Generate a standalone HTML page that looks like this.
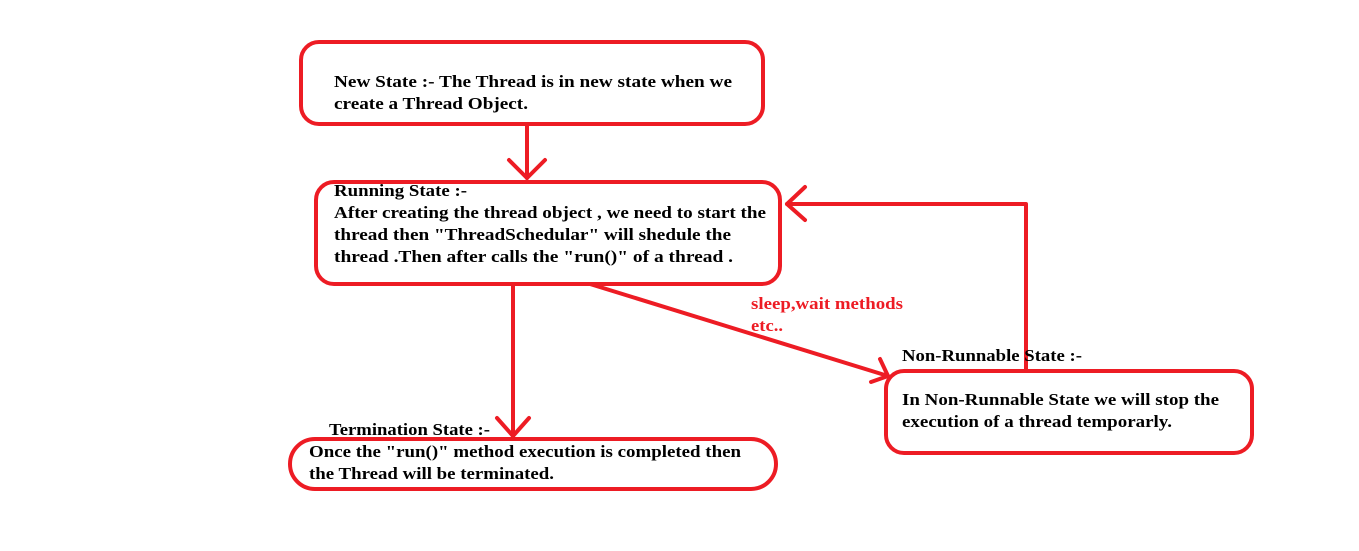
<!DOCTYPE html>
<html><head><meta charset="utf-8"><style>
html,body{margin:0;padding:0;background:#fff;}
svg{display:block;}
text{font-family:"Liberation Serif",serif;font-weight:bold;font-size:17px;fill:#000;}
.r{fill:#ed1c24;}
</style></head><body>
<svg width="1359" height="551" viewBox="0 0 1359 551">
<g fill="none" stroke="#ed1c24" stroke-width="4" stroke-linecap="round" stroke-linejoin="round">
<rect x="301" y="42" width="462" height="82" rx="18"/>
<rect x="316" y="182" width="464" height="102" rx="18"/>
<rect x="290" y="439" width="486" height="50" rx="25"/>
<rect x="886" y="371" width="366" height="82" rx="18"/>
<line x1="527" y1="125" x2="527" y2="178"/>
<polyline points="509,160 527,178 545,160"/>
<line x1="513" y1="285" x2="513" y2="436"/>
<polyline points="497,418 513,436 529,418"/>
<line x1="590" y1="284" x2="888" y2="376"/>
<polyline points="880,359 888,376 871,382"/>
<polyline points="1026,370 1026,204 787,204"/>
<polyline points="805,187 787,204 805,220"/>
</g>
<g>
<text x="334" y="87" textLength="398" lengthAdjust="spacingAndGlyphs">New State :- The Thread is in new state when we</text>
<text x="334" y="109" textLength="194" lengthAdjust="spacingAndGlyphs">create a Thread Object.</text>
<text x="334" y="196" textLength="133" lengthAdjust="spacingAndGlyphs">Running State :-</text>
<text x="334" y="218" textLength="432" lengthAdjust="spacingAndGlyphs">After creating the thread object , we need to start the</text>
<text x="334" y="240" textLength="397" lengthAdjust="spacingAndGlyphs">thread then  "ThreadSchedular" will shedule the</text>
<text x="334" y="262" textLength="399" lengthAdjust="spacingAndGlyphs">thread .Then after calls the "run()" of  a thread .</text>
<text class="r" x="751" y="309" textLength="152" lengthAdjust="spacingAndGlyphs">sleep,wait methods</text>
<text class="r" x="751" y="331" textLength="32" lengthAdjust="spacingAndGlyphs">etc..</text>
<text x="902" y="361" textLength="180" lengthAdjust="spacingAndGlyphs">Non-Runnable State :-</text>
<text x="902" y="405" textLength="317" lengthAdjust="spacingAndGlyphs">In Non-Runnable State we will stop the</text>
<text x="902" y="427" textLength="270" lengthAdjust="spacingAndGlyphs">execution of a thread temporarly.</text>
<text x="329" y="435" textLength="161" lengthAdjust="spacingAndGlyphs">Termination State :-</text>
<text x="309" y="457" textLength="432" lengthAdjust="spacingAndGlyphs">Once the "run()" method execution is completed then</text>
<text x="309" y="479" textLength="245" lengthAdjust="spacingAndGlyphs">the Thread will be terminated.</text>
</g>
</svg>
</body></html>
